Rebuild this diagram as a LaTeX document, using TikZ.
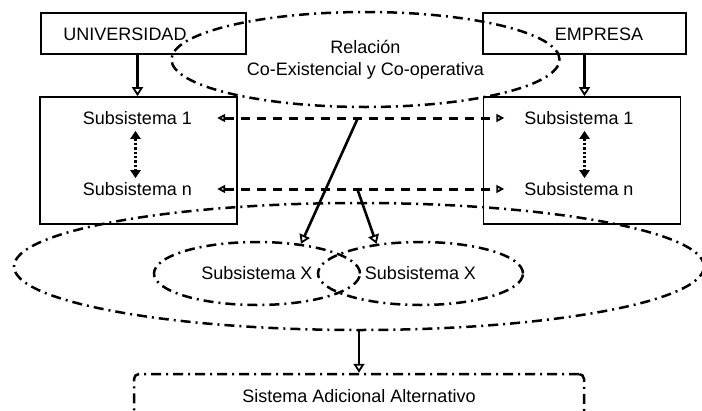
\documentclass[tikz,border=0pt]{standalone}
\usepackage{fontspec}
\setmainfont{Liberation Sans}
\usetikzlibrary{arrows.meta, shapes.geometric}

\tikzset{
    box/.style={draw, line width=1.7pt, rectangle, inner sep=0pt},
    txt/.style={inner sep=2pt},
    dashdot/.style={line width=2.5pt, dash pattern=on 10pt off 5pt on 2pt off 5pt},
    oval/.style={ellipse, draw, dashdot, inner sep=0pt},
    mainarrow/.style={line width=2.6pt,
        -{Triangle[open, length=9pt, width=11pt, line width=1.8pt]}},
    linkarrow/.style={line width=3pt, dash pattern=on 9pt off 7pt,
        {Triangle[open, length=8pt, width=8pt, line width=1.8pt]}-{Triangle[open, length=8pt, width=8pt, line width=1.8pt]}},
    steparrow/.style={line width=2.4pt, dotted,
        {Triangle[length=8pt, width=10pt]}-{Triangle[length=8pt, width=10pt]}}
}

\begin{document}
\begin{tikzpicture}[x=1pt, y=-1pt, font=\fontsize{18}{21}\selectfont]
    \useasboundingbox (0,0) rectangle (702,410);

    \node[box, minimum width=205pt, minimum height=41pt] (univ) at (143.5,33.5) {};
    \node[box, minimum width=203pt, minimum height=41pt] (emp) at (584.5,33.5) {};
    \node[txt] (univtxt) at (125,34) {UNIVERSIDAD};
    \node[txt] (emptxt) at (599,34) {EMPRESA};

    \node[box, minimum width=197pt, minimum height=127pt] (ubox) at (138.5,160.5) {};
    \node[box, minimum width=197pt, minimum height=127pt] (ebox) at (582,160.5) {};

    \node[oval, minimum width=388pt, minimum height=95pt, align=center] (rel) at (365.5,59.5)
        {Relación\\[1pt]Co-Existencial y Co-operativa};

    \node[txt] (sub1l) at (137.5,118) {Subsistema 1};
    \node[txt] (subnl) at (137.5,189) {Subsistema n};
    \node[txt] (sub1r) at (579,118) {Subsistema 1};
    \node[txt] (subnr) at (579,189) {Subsistema n};

    \draw[mainarrow] (sub1l |- univ.south) -- (sub1l |- ubox.north);
    \draw[mainarrow] (emp.south) -- (emp.south |- ebox.north);

    \draw[steparrow] ([xshift=-2pt, yshift=-4pt]sub1l.south) -- ([xshift=-2pt, yshift=2pt]subnl.north);
    \draw[steparrow] ([yshift=-4pt]sub1r.south -| emp.south) -- ([yshift=2pt]subnr.north -| emp.south);

    \draw[linkarrow] ([xshift=23pt]sub1l.east) -- ([xshift=-18pt]sub1r.west)
        coordinate[pos=0.49] (m1);
    \draw[linkarrow] ([xshift=23pt]subnl.east) -- ([xshift=-18pt]subnr.west)
        coordinate[pos=0.488] (m2);

    \node[oval, minimum width=690pt, minimum height=127pt] (sys) at (359,266.5) {};
    \node[oval, minimum width=206pt, minimum height=63pt] (sx1) at (257,273.5) {Subsistema X};
    \node[oval, minimum width=205pt, minimum height=63pt] (sx2) at (420.5,273.5) {Subsistema X};

    \draw[mainarrow] (m1) -- (sx1.34);
    \draw[mainarrow] (m2) -- (sx2.146);

    \node[draw, dashdot, rounded corners=5pt, minimum width=450pt, minimum height=44pt] (alt)
        at (359,396) {Sistema Adicional Alternativo};
    \draw[mainarrow] (sys.south) -- (alt.north);
\end{tikzpicture}
\end{document}
